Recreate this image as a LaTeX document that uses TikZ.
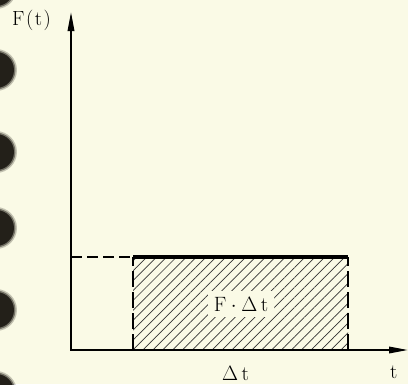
\documentclass[tikz,border=0pt]{standalone}
\usepackage{amsmath}
\usepackage{tikz}
\usetikzlibrary{arrows.meta, patterns.meta, positioning}
\definecolor{paper}{RGB}{250,250,230}
\definecolor{hole}{RGB}{35,32,25}
\newcommand{\lblsize}{\fontsize{20.5}{24}\selectfont}
\tikzset{lbl/.style={inner sep=0pt, anchor=base west, execute at begin node=\lblsize}}

\begin{document}
\begin{tikzpicture}[x=1pt, y=-1pt, >={Triangle[length=19pt, width=6.5pt]}]
				\fill[paper] (0,0) rectangle (408,384);
				\useasboundingbox (0,0) rectangle (408,384);
				
				% holes along the left edge
				\foreach \y in {-12, 70, 152, 228, 310, 392} {
					\fill[hole, opacity=0.25] (-4,\y) circle (21);
					\fill[hole, opacity=0.5] (-4,\y) circle (19.5);
					\fill[hole] (-4,\y) circle (18);
				}
				
				\coordinate (origin) at (71, 350);
				\coordinate (ytop) at (71, 12);
				\coordinate (xend) at (408, 350);
				\coordinate (fval) at (71, 257);
				\coordinate (ta) at (133, 350);
				\coordinate (tb) at (348, 350);
				\coordinate (fa) at (133, 257);
				\coordinate (fb) at (348, 257);
				
				\fill[pattern={Lines[angle=45, distance=7pt, line width=0.7pt]}, pattern color=black!80] (ta) rectangle (fb);
				
				\node[lbl, anchor=center, fill=paper, inner sep=6pt] (area) at (241, 304) {$\mathrm{F}\cdot\Delta\,\mathrm{t}$};
				\node[lbl] (dt) at (222, 380) {$\Delta\,\mathrm{t}$};
				\node[lbl] (flabel) at (12, 25) {F\kern1.5pt(\kern1.5pt t\kern1.5pt)};
				\node[lbl] (tlabel) at (390, 378) {t};
				
				\draw[<->, line width=1.8pt] (ytop) -- (origin) -- (xend);
				\draw[line width=1.5pt, dash pattern=on 11pt off 5pt] (fval) -- (fa);
				\draw[line width=1.5pt, dash pattern=on 16pt off 5pt] (ta) -- (fa);
				\draw[line width=1.5pt, dash pattern=on 16pt off 5pt] (tb) -- (fb);
				\draw[line width=3.5pt] (fa) -- (fb);
			\end{tikzpicture}
\end{document}
